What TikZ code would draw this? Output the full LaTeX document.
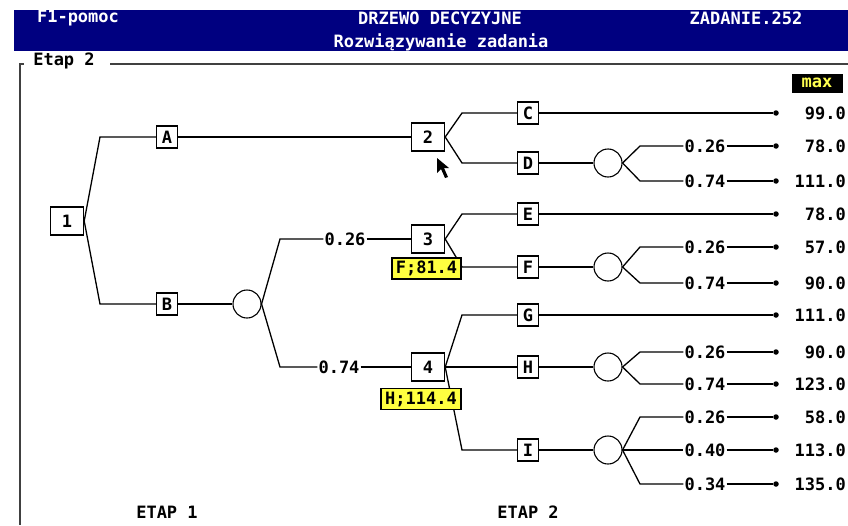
\documentclass[tikz,border=0pt]{standalone}
\usepackage{fontspec}
\newfontfamily\dosfont{DejaVu Sans Mono Bold}
\definecolor{hdrblue}{RGB}{0,0,128}
\definecolor{lblyellow}{RGB}{255,255,64}
\definecolor{maxyellow}{RGB}{255,255,80}
\begin{document}
\begin{tikzpicture}[x=1pt,y=-1pt,
  font=\dosfont\fontsize{17}{18}\selectfont,
  dec/.style={draw, line width=1.4pt, fill=white, minimum width=33pt, minimum height=28pt, inner sep=0},
  alt/.style={draw, line width=1.4pt, fill=white, minimum width=21pt, minimum height=22pt, inner sep=0},
  chance/.style={circle, draw, line width=1.1pt, fill=white, minimum size=28pt, inner sep=0},
  edge/.style={line width=1.3pt},
  prob/.style={fill=white, inner sep=1pt},
  val/.style={anchor=east, inner sep=0},
  tipdot/.style={circle, fill=black, inner sep=0, minimum size=5.5pt},
  best/.style={draw, line width=1.1pt, fill=lblyellow, inner sep=0, minimum height=21pt},
  hdr/.style={text=white, inner sep=0},
]
\useasboundingbox (0,0) rectangle (848,525);
% header bar
\fill[hdrblue] (14,10) rectangle (848,51);
\node[hdr] (hf1) at (78,18) {F1-pomoc};
\node[hdr] (htitle) at (440,18) {DRZEWO DECYZYJNE};
\node[hdr] (hzad) at (746,18) {ZADANIE.252};
\node[hdr] (hsub) at (441,42) {Rozwiązywanie zadania};
% frame
\draw[line width=1.4pt, black!75] (24,64) -- (20,64) -- (20,525);
\draw[line width=1.4pt, black!75] (110,64) -- (848,64);
\node[inner sep=0] (etapframe) at (64,61) {Etap 2};
% max box
\node[fill=black, text=maxyellow, minimum width=51pt, minimum height=19pt, inner sep=0] (maxlbl) at (817,83) {max};

% decision nodes
\node[dec] (n1) at (67,221) {1};
\node[dec] (n2) at (428,137) {2};
\node[dec] (n3) at (428,239) {3};
\node[dec] (n4) at (428,367) {4};
% alternatives
\node[alt] (nA) at (167,137) {A};
\node[alt] (nB) at (167,304) {B};
\node[alt] (nC) at (528,113) {C};
\node[alt] (nD) at (528,163) {D};
\node[alt] (nE) at (528,214) {E};
\node[alt] (nF) at (528,267) {F};
\node[alt] (nG) at (528,315) {G};
\node[alt] (nH) at (528,367) {H};
\node[alt] (nI) at (528,450) {I};
% chance nodes
\node[chance] (cB) at (247,304) {};
\node[chance] (cD) at (608,163) {};
\node[chance] (cF) at (608,267) {};
\node[chance] (cH) at (608,367) {};
\node[chance] (cI) at (608,450) {};

% bend coordinates
\coordinate (bA) at (100,137);
\coordinate (bB) at (100,304);
\coordinate (bB1) at (280,239);
\coordinate (bB2) at (280,367);
\coordinate (bC) at (462,113);
\coordinate (bD) at (462,163);
\coordinate (bE) at (462,214);
\coordinate (bF) at (462,267);
\coordinate (bG) at (462,315);
\coordinate (bI) at (462,450);

% first level
\draw[edge] (n1.east) -- (bA) -- (nA.west);
\draw[edge] (nA.east) -- (n2.west);
\draw[edge] (n1.east) -- (bB) -- (nB.west);
\draw[edge] (nB.east) -- (cB.west);
\node[prob] (pB1) at (345,239) {0.26};
\node[prob] (pB2) at (339,367) {0.74};
\draw[edge] (cB.east) -- (bB1) -- (pB1.west);
\draw[edge] (pB1.east) -- (n3.west);
\draw[edge] (cB.east) -- (bB2) -- (pB2.west);
\draw[edge] (pB2.east) -- (n4.west);

% second level decisions
\draw[edge] (n2.east) -- (bC) -- (nC.west);
\draw[edge] (n2.east) -- (bD) -- (nD.west);
\draw[edge] (n3.east) -- (bE) -- (nE.west);
\draw[edge] (n3.east) -- (bF) -- (nF.west);
\draw[edge] (n4.east) -- (bG) -- (nG.west);
\draw[edge] (n4.east) -- (nH.west);
\draw[edge] (n4.east) -- (bI) -- (nI.west);
\draw[edge] (nD.east) -- (cD.west);
\draw[edge] (nF.east) -- (cF.west);
\draw[edge] (nH.east) -- (cH.west);
\draw[edge] (nI.east) -- (cI.west);

% terminal dots
\node[tipdot] (tC) at (776,113) {};
\node[tipdot] (tD1) at (776,146) {};
\node[tipdot] (tD2) at (776,181) {};
\node[tipdot] (tE) at (776,214) {};
\node[tipdot] (tF1) at (776,247) {};
\node[tipdot] (tF2) at (776,283) {};
\node[tipdot] (tG) at (776,315) {};
\node[tipdot] (tH1) at (776,352) {};
\node[tipdot] (tH2) at (776,384) {};
\node[tipdot] (tI1) at (776,417) {};
\node[tipdot] (tI2) at (776,450) {};
\node[tipdot] (tI3) at (776,484) {};

\draw[edge] (nC.east) -- (tC);
\draw[edge] (nE.east) -- (tE);
\draw[edge] (nG.east) -- (tG);

% probability labels of outcomes
\node[prob] (pD1) at (705,146) {0.26};
\node[prob] (pD2) at (705,181) {0.74};
\node[prob] (pF1) at (705,247) {0.26};
\node[prob] (pF2) at (705,283) {0.74};
\node[prob] (pH1) at (705,352) {0.26};
\node[prob] (pH2) at (705,384) {0.74};
\node[prob] (pI1) at (705,417) {0.26};
\node[prob] (pI2) at (705,450) {0.40};
\node[prob] (pI3) at (705,484) {0.34};

\draw[edge] (cD.east) -- (640,146) -- (pD1.west); \draw[edge] (pD1.east) -- (tD1);
\draw[edge] (cD.east) -- (640,181) -- (pD2.west); \draw[edge] (pD2.east) -- (tD2);
\draw[edge] (cF.east) -- (640,247) -- (pF1.west); \draw[edge] (pF1.east) -- (tF1);
\draw[edge] (cF.east) -- (640,283) -- (pF2.west); \draw[edge] (pF2.east) -- (tF2);
\draw[edge] (cH.east) -- (640,352) -- (pH1.west); \draw[edge] (pH1.east) -- (tH1);
\draw[edge] (cH.east) -- (640,384) -- (pH2.west); \draw[edge] (pH2.east) -- (tH2);
\draw[edge] (cI.east) -- (640,417) -- (pI1.west); \draw[edge] (pI1.east) -- (tI1);
\draw[edge] (cI.east) -- (pI2.west); \draw[edge] (pI2.east) -- (tI2);
\draw[edge] (cI.east) -- (640,484) -- (pI3.west); \draw[edge] (pI3.east) -- (tI3);

% values
\node[val] (vC) at (846,113) {99.0};
\node[val] (vD1) at (846,146) {78.0};
\node[val] (vD2) at (846,181) {111.0};
\node[val] (vE) at (846,214) {78.0};
\node[val] (vF1) at (846,247) {57.0};
\node[val] (vF2) at (846,283) {90.0};
\node[val] (vG) at (846,315) {111.0};
\node[val] (vH1) at (846,352) {90.0};
\node[val] (vH2) at (846,384) {123.0};
\node[val] (vI1) at (846,417) {58.0};
\node[val] (vI2) at (846,450) {113.0};
\node[val] (vI3) at (846,484) {135.0};

% best-choice labels
\node[best, minimum width=69pt] (best3) at (426.5,268.5) {F;81.4};
\node[best, minimum width=80pt] (best4) at (421,399) {H;114.4};

% stage labels
\node[inner sep=0] (etap1) at (167,512) {ETAP 1};
\node[inner sep=0] (etap2) at (528,512) {ETAP 2};

% mouse cursor
\fill[black] (437,158) -- (437,173) -- (441,169) -- (445,178) -- (448,177) -- (444,168) -- (449,168) -- cycle;
\end{tikzpicture}
\end{document}
